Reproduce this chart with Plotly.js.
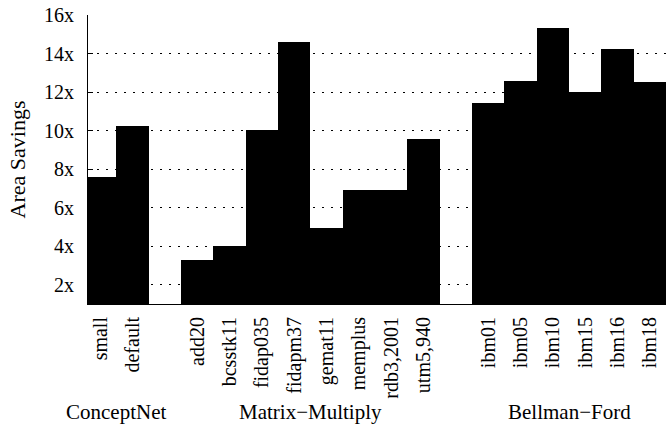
<!DOCTYPE html>
<html>
<head>
<meta charset="utf-8">
<script src="https://cdn.plot.ly/plotly-3.0.1.min.js"></script>
<style>html,body{margin:0;padding:0;background:#fff;}</style>
</head>
<body>
<div id="chart" style="width:669px;height:429px;"></div>
<script>
// Categories (spacer entries " " and "  " separate the benchmark groups)
var categories = ["small", "default", " ",
  "add20", "bcsstk11", "fidap035", "fidapm37", "gemat11", "memplus", "rdb3,2001", "utm5,940", "  ",
  "ibm01", "ibm05", "ibm10", "ibm15", "ibm16", "ibm18"];
var savings = [7.6, 10.25, null,
  3.28, 4.02, 10.02, 14.58, 4.96, 6.91, 6.91, 9.56, null,
  11.44, 12.6, 15.34, 12.0, 14.22, 12.54];
var groupNames = ["ConceptNet", "Matrix\u2212Multiply", "Bellman\u2212Ford"];
var groupCenters = [0.5, 6.5, 14.5];
var yTickVals = [2, 4, 6, 8, 10, 12, 14, 16];
var yTickText = ["2x", "4x", "6x", "8x", "10x", "12x", "14x", "16x"];

var serif = "Liberation Serif, Times New Roman, serif";

var trace = {
  type: "bar",
  x: categories,
  y: savings,
  marker: {color: "#000000", line: {width: 0}},
  hoverinfo: "skip"
};

var annotations = groupNames.map(function (name, i) {
  return {
    text: name, xref: "x", yref: "paper",
    x: groupCenters[i], y: 0, yshift: -108,
    xanchor: "center", yanchor: "middle",
    showarrow: false,
    font: {family: serif, size: 21, color: "#000"}
  };
});

var layout = {
  width: 669, height: 429,
  margin: {l: 88, r: 3, t: 15, b: 125},
  paper_bgcolor: "#fff", plot_bgcolor: "#fff",
  bargap: 0,
  showlegend: false,
  font: {family: serif, color: "#000", size: 20},
  xaxis: {
    type: "category",
    categoryorder: "array", categoryarray: categories,
    range: [-0.38, categories.length - 0.5],
    tickangle: -90,
    showgrid: false, zeroline: false,
    showline: true, linecolor: "#000", linewidth: 1,
    ticks: "", ticklabelstandoff: 4,
    tickfont: {family: serif, size: 20, color: "#000"}
  },
  yaxis: {
    range: [1, 16],
    tickvals: yTickVals, ticktext: yTickText,
    showgrid: true, gridcolor: "#000", gridwidth: 1, griddash: "2px,7px",
    zeroline: false,
    showline: true, linecolor: "#000", linewidth: 1,
    ticks: "inside", ticklen: 5, tickcolor: "#000", tickwidth: 1,
    ticklabelstandoff: 9,
    tickfont: {family: serif, size: 20, color: "#000"},
    title: {text: "Area Savings", font: {family: serif, size: 22, color: "#000"}, standoff: 12}
  },
  annotations: annotations
};

Plotly.newPlot("chart", [trace], layout, {staticPlot: true, displayModeBar: false});
</script>
</body>
</html>
